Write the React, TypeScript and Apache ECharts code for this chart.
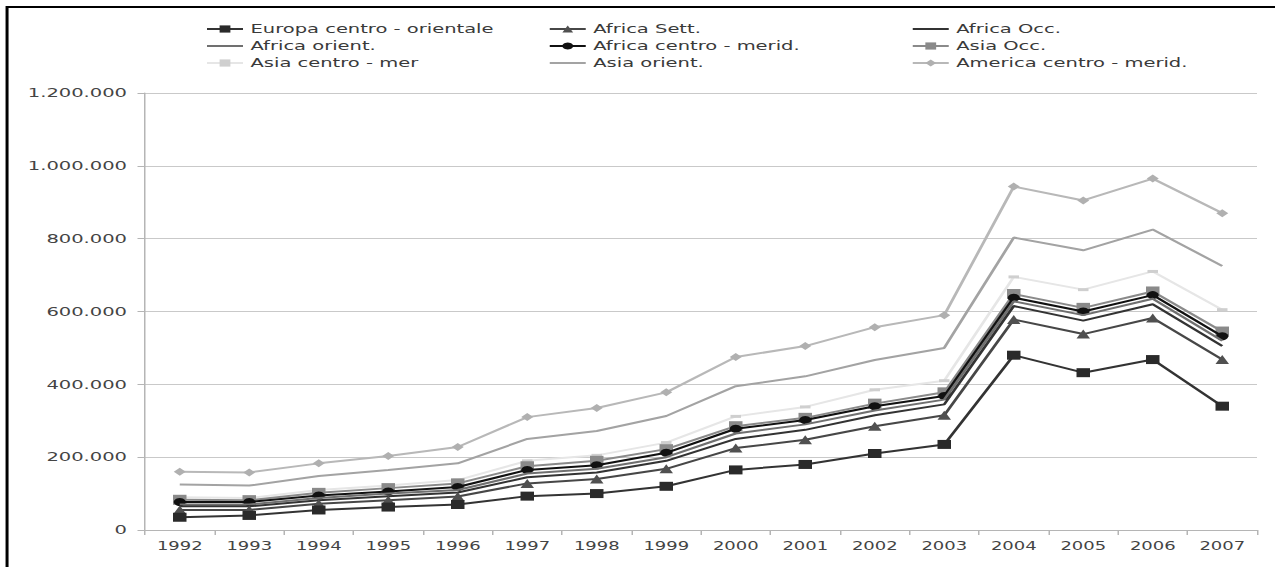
import React, { useEffect, useRef } from "react";
import * as echarts from "echarts";

const years = ["1992","1993","1994","1995","1996","1997","1998","1999","2000","2001","2002","2003","2004","2005","2006","2007"];

const europaCentroOrientale = [35000,40000,55000,63000,70000,93000,100000,120000,165000,180000,210000,235000,480000,432000,468000,340000];
const africaSett = [20000,15000,17000,19000,22000,35000,40000,48000,60000,68000,75000,80000,98000,106000,114000,128000];
const africaOcc = [10000,10000,10000,11000,11000,17000,18000,22000,25000,27000,30000,30000,37000,37000,38000,37000];
const africaOrient = [5000,5000,6000,7000,7000,10000,10000,10000,15000,15000,13000,13000,13000,15000,15000,15000];
const africaCentroMerid = [7000,7000,7000,6000,8000,10000,10000,12000,13000,12000,12000,10000,10000,10000,10000,12000];
const asiaOcc = [6000,5000,7000,9000,10000,10000,12000,10000,7000,6000,7000,10000,10000,10000,10000,13000];
const asiaCentroMer = [7000,6000,8000,7000,9000,15000,15000,18000,27000,30000,38000,32000,47000,50000,55000,60000];
const asiaOrient = [35000,34000,38000,43000,46000,60000,67000,73000,83000,84000,82000,90000,108000,108000,115000,120000];
const americaCentroMerid = [35000,36000,35000,38000,45000,60000,63000,65000,80000,83000,90000,90000,140000,137000,140000,145000];

const yTicks = { min: 0, max: 1200000, interval: 200000 };

const SX = 1.5; // horizontal stretch of the reference picture
const W = 1275 / SX;
const H = 567;

const FONT = "DejaVu Sans";

function fmt(v: number): string {
  return String(v).replace(/\B(?=(\d{3})+(?!\d))/g, ".");
}

const noMarker = ["Africa Occ.", "Africa orient.", "Asia orient."];

export default function App() {
  const ref = useRef<HTMLDivElement>(null);

  useEffect(() => {
    if (!ref.current) return;
    const chart = echarts.init(ref.current, undefined, { renderer: "svg", width: W, height: H });

    const mk = (name: string, data: number[], color: string, lineColor: string, symbol: string, size: any, z: number) => ({
      name,
      type: "line",
      stack: "total",
      data,
      symbol,
      symbolSize: size,
      showSymbol: symbol !== "none",
      z,
      lineStyle: { color: lineColor, width: 2 },
      itemStyle: { color, borderWidth: 0 },
      emphasis: { disabled: true },
    });

    const series = [
      mk("Europa centro - orientale", europaCentroOrientale, "#2a2a2a", "#333333", "rect", [9, 9], 10),
      mk("Africa Sett.", africaSett, "#505050", "#474747", "triangle", [9, 9], 9),
      mk("Africa Occ.", africaOcc, "#333333", "#333333", "none", 0, 8),
      mk("Africa orient.", africaOrient, "#707070", "#707070", "none", 0, 7),
      mk("Africa centro - merid.", africaCentroMerid, "#111111", "#111111", "circle", [8, 8], 6),
      mk("Asia Occ.", asiaOcc, "#8a8a8a", "#8a8a8a", "rect", [9, 10], 5),
      mk("Asia centro - mer", asiaCentroMer, "#cfcfcf", "#e6e6e6", "rect", [7, 3], 4),
      mk("Asia orient.", asiaOrient, "#a3a3a3", "#a3a3a3", "none", 0, 3),
      mk("America centro - merid.", americaCentroMerid, "#b0b0b0", "#b8b8b8", "diamond", [8, 8], 2),
    ];

    const item = (n: string) => (noMarker.includes(n) ? { name: n, itemStyle: { opacity: 0 } } : { name: n });

    const legendBase = {
      orient: "vertical",
      top: 17,
      itemWidth: 24,
      itemHeight: 9,
      itemGap: 3,
      selectedMode: false,
      textStyle: { fontFamily: FONT, fontSize: 13, color: "#3a3a3a", lineHeight: 14 },
    };

    chart.setOption({
      animation: false,
      backgroundColor: "#ffffff",
      textStyle: { fontFamily: FONT },
      legend: [
        { ...legendBase, left: 132, data: ["Europa centro - orientale", "Africa orient.", "Asia centro - mer"].map(item) },
        { ...legendBase, left: 360.5, data: ["Africa Sett.", "Africa centro - merid.", "Asia orient."].map(item) },
        { ...legendBase, left: 602.5, data: ["Africa Occ.", "Asia Occ.", "America centro - merid."].map(item) },
      ],
      grid: { left: 145 / SX, right: W - 1257 / SX, top: 93, bottom: 37, containLabel: false },
      xAxis: {
        type: "category",
        data: years,
        boundaryGap: true,
        axisLine: { lineStyle: { color: "#b5b5b5", width: 1 } },
        axisTick: { show: true, length: 5, lineStyle: { color: "#b5b5b5" } },
        axisLabel: { fontFamily: FONT, fontSize: 12, color: "#444444", margin: 10 },
        splitLine: { show: false },
      },
      yAxis: {
        type: "value",
        min: yTicks.min,
        max: yTicks.max,
        interval: yTicks.interval,
        axisLine: { show: true, lineStyle: { color: "#b5b5b5", width: 1 } },
        axisTick: { show: true, length: 5, lineStyle: { color: "#b5b5b5" } },
        axisLabel: { fontFamily: FONT, fontSize: 13, color: "#444444", margin: 12, formatter: (v: number) => fmt(v) },
        splitLine: { show: true, lineStyle: { color: "#c9c9c9", width: 1 } },
      },
      graphic: [
        {
          type: "rect",
          shape: { x: 4.7, y: 7, width: 1000, height: 700 },
          style: { fill: "none", stroke: "#000000", lineWidth: 2 },
          silent: true,
          z: 100,
        },
      ],
      series,
    });

    return () => chart.dispose();
  }, []);

  return (
    <div
      ref={ref}
      style={{
        position: "absolute",
        left: 0,
        top: 0,
        width: W + "px",
        height: H + "px",
        transform: `scaleX(${SX})`,
        transformOrigin: "0 0",
      }}
    />
  );
}
